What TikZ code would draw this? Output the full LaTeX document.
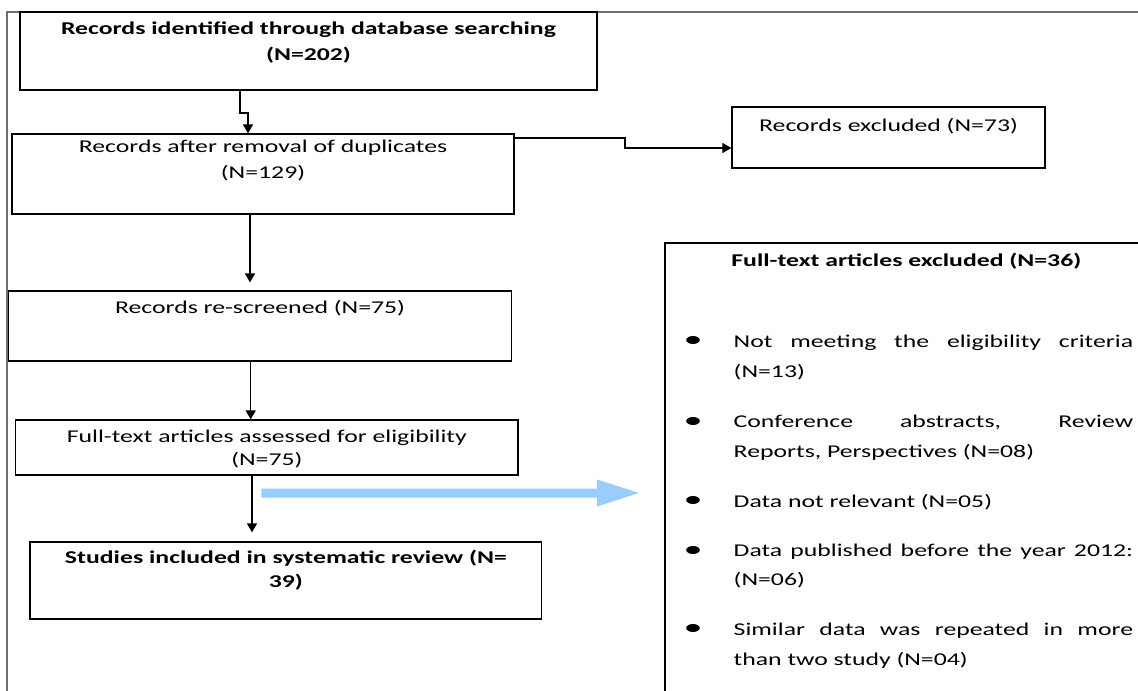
\documentclass[tikz,border=0pt]{standalone}
\usepackage{fontspec}
\setmainfont{Carlito}[FakeStretch=1.43]
\usetikzlibrary{arrows.meta}
\definecolor{flowblue}{HTML}{99CCFF}
\definecolor{framegray}{HTML}{6E6E6E}
\begin{document}
\begin{tikzpicture}[x={(0.5pt,0)}, y={(0,-0.5pt)},
  box/.style={draw=black, line width=0.65pt, inner sep=0pt, fill=none},
  txt/.style={inner sep=0pt, anchor=base, font=\fontsize{9}{13}\selectfont},
  btxt/.style={txt, font=\fontsize{9}{13}\selectfont\bfseries},
  ltxt/.style={txt, anchor=base west},
  arr/.style={draw=black, line width=0.75pt, -{Triangle[width=5pt,length=4.5pt]}},
  bul/.style={fill=black}]
\useasboundingbox (0,0) rectangle (1138,690);
\begin{scope}
\clip (0,0) rectangle (1138,690);

% outer frame
\draw[framegray, line width=0.75pt] (1140,12) -- (7,12) -- (7,692);

% boxes of the flow
\node[box, minimum width=288.5pt, minimum height=39pt] (b1) at (308.5,51) {};
\node[box, minimum width=251pt, minimum height=40pt] (b2) at (263,174) {};
\node[box, minimum width=156.5pt, minimum height=30.5pt] (b3) at (888.5,137.5) {};
\node[box, minimum width=251.4pt, minimum height=35pt] (b4) at (260,326) {};
\node[box, minimum width=251.15pt, minimum height=27.5pt] (b5) at (266.85,447.5) {};
\node[box, minimum width=255.9pt, minimum height=38.5pt] (b6) at (285.9,580.5) {};
\node[box, minimum width=267.5pt, minimum height=258.5pt] (b7) at (932.5,501.5) {};

% box texts
\node[btxt] (t1a) at (308.5,35) {Records identified through database searching};
\node[btxt] (t1b) at (308.5,61) {(N=202)};
\node[txt] (t2a) at (263,152) {Records after removal of duplicates};
\node[txt] (t2b) at (263,178) {(N=129)};
\node[txt] (t3) at (888.5,131) {Records excluded (N=73)};
\node[txt] (t4) at (260,313) {Records re-screened (N=75)};
\node[txt] (t5a) at (266.85,442) {Full-text articles assessed for eligibility};
\node[txt] (t5b) at (266.85,465) {(N=75)};
\node[btxt] (t6a) at (285.9,563) {Studies included in systematic review (N=};
\node[btxt] (t6b) at (285.9,587) {39)};

% exclusion list
\node[btxt, anchor=base west] (h7) at (731,266) {Full-text articles excluded (N=36)};
\node[ltxt] (l1a) at (733.3,347) {\makebox[199.7pt][s]{Not meeting the eligibility criteria}};
\node[ltxt] (l1b) at (733.3,377) {(N=13)};
\node[ltxt] (l2a) at (733.3,427) {\makebox[199.7pt][s]{Conference abstracts, Review}};
\node[ltxt] (l2b) at (733.3,457) {Reports, Perspectives (N=08)};
\node[ltxt] (l3a) at (733.3,507) {Data not relevant (N=05)};
\node[ltxt] (l4a) at (733.3,556) {\makebox[199.7pt][s]{Data published before the year 2012:}};
\node[ltxt] (l4b) at (733.3,585) {(N=06)};
\node[ltxt] (l5a) at (733.3,635) {\makebox[199.7pt][s]{Similar data was repeated in more}};
\node[ltxt] (l5b) at (733.3,665) {than two study (N=04)};
\foreach \yy in {340,421,500,550,628}
  \fill[bul] (693,\yy) ellipse [x radius=3.4pt, y radius=2pt];

% connectors
\coordinate (k1) at (240,0);
\coordinate (k1b) at (248,113);
\coordinate (k2) at (625,138);
\coordinate (k3) at (250,0);
\coordinate (k4) at (250.7,0);
\coordinate (k5) at (252,0);
\draw[arr] (b1.south -| k1) |- (k1b) -- (b2.north -| k1b);
\draw[arr] (b2.east |- k2) -- (k2) -- ++(0,10) -- (b3.west |- 0,148);
\draw[arr, shorten >=4pt] (b2.south -| k3) -- (b4.north -| k3);
\draw[arr] (b4.south -| k4) -- (b5.north -| k4);
\draw[arr, shorten >=4.5pt] (b5.south -| k5) -- (b6.north -| k5);

% wide arrow towards the exclusion list
\coordinate (w0) at (261.4,493);
\coordinate (w1) at (639,493);
\fill[flowblue] (w0) ++(0,-4.5) -- (597,488.5) -- (597,479.5) -- (w1)
  -- (597,506.5) -- (597,497.5) -- (261.4,497.5) -- cycle;
\end{scope}
\end{tikzpicture}
\end{document}
